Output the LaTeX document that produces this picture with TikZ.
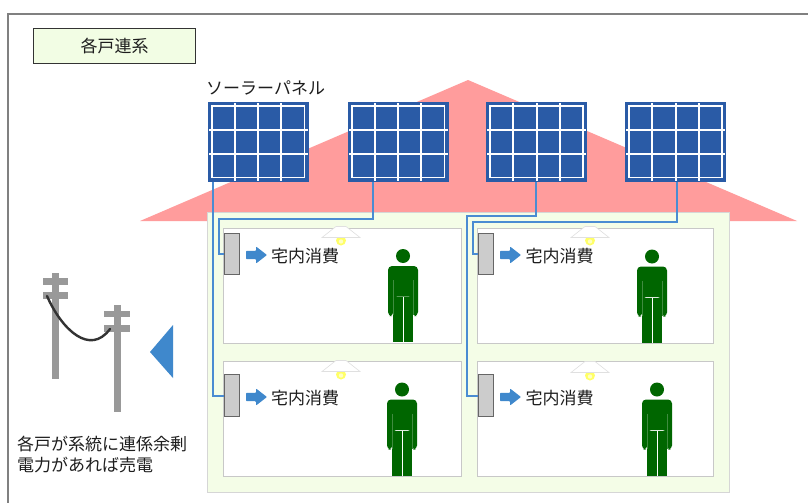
\documentclass[tikz,border=0pt]{standalone}
\usepackage{fontspec}
\setmainfont{Noto Sans CJK JP}
\usetikzlibrary{calc}

\definecolor{framegray}{HTML}{808080}
\definecolor{titlefill}{HTML}{F2FDE4}
\definecolor{panelblue}{HTML}{2A5BA6}
\definecolor{roofpink}{HTML}{FF9C9C}
\definecolor{housefill}{HTML}{F4FDE7}
\definecolor{houseedge}{HTML}{D6D6D6}
\definecolor{roomedge}{HTML}{C8C8C8}
\definecolor{wireblue}{HTML}{4A8CD2}
\definecolor{metergray}{HTML}{CCCCCC}
\definecolor{meteredge}{HTML}{666666}
\definecolor{accentblue}{HTML}{3F88CC}
\definecolor{persongreen}{HTML}{006600}
\definecolor{polegray}{HTML}{999999}
\definecolor{lampyellow}{HTML}{FFFF66}
\definecolor{textdark}{HTML}{1E1E1E}

\tikzset{
  jfont/.style={font=\fontsize{17}{20.5}\selectfont, text=textdark},
  titlebox/.style={rectangle, draw=black!80, fill=titlefill, line width=1pt,
    minimum width=162pt, minimum height=35pt, inner sep=0pt, anchor=north west, jfont},
  panel/.style={rectangle, fill=panelblue, draw=panelblue, line width=1.2pt,
    minimum width=100pt, minimum height=79pt, inner sep=0pt, anchor=north west,
    path picture={
      \foreach \dx in {26.75,50,73.25}
        \draw[white, line width=2.2pt]
          ([xshift=\dx pt]path picture bounding box.north west) --
          ([xshift=\dx pt]path picture bounding box.south west);
      \foreach \dy in {27.5,51.5}
        \draw[white, line width=2.2pt]
          ([yshift=-\dy pt]path picture bounding box.north west) --
          ([yshift=-\dy pt]path picture bounding box.north east);
      \draw[white, line width=1.6pt]
        ([shift={(3.6pt,-3.6pt)}]path picture bounding box.north west) rectangle
        ([shift={(-3.6pt,3.6pt)}]path picture bounding box.south east);
    }},
  house/.style={rectangle, fill=housefill, draw=houseedge, line width=1.2pt,
    minimum width=522pt, minimum height=280pt, inner sep=0pt, anchor=north west},
  room/.style={rectangle, fill=white, draw=roomedge, line width=1.4pt,
    minimum width=238pt, minimum height=115pt, inner sep=0pt, anchor=north west},
  meter/.style={rectangle, fill=metergray, draw=meteredge, line width=1pt,
    minimum width=15pt, minimum height=41pt, inner sep=0pt, anchor=north west},
  wire/.style={draw=wireblue, line width=2pt},
  usage/.style={anchor=west, inner sep=0pt, jfont},
  person/.pic={
    \fill[persongreen] (0,-86) circle (7);
    \fill[persongreen, rounded corners=4pt]
      (-15,-26) -- (-15,-76) -- (15,-76) -- (15,-26) -- (9.7,-26)
      -- (9.7,-45.5) -- (-9.7,-45.5) -- (-9.7,-26) -- cycle;
    \fill[persongreen] (-9.7,-44.6) rectangle (-0.5,0);
    \fill[persongreen] (0.5,-44.6) rectangle (9.7,0);
    \draw[persongreen!75!white, line width=0.4pt] (-9.7,-62) -- (-9.7,-27);
    \draw[persongreen!75!white, line width=0.4pt] (9.7,-62) -- (9.7,-27);
  },
  lamp/.pic={
    \fill[lampyellow] (0,14) circle (5);
    \fill[lampyellow!40!white] (0,15) circle (2.2);
    \filldraw[fill=white, draw=black!12, line width=0.6pt]
      (-5,0) -- (5,0) -- (19,11) -- (-19,11) -- cycle;
  },
  flow/.pic={
    \fill[accentblue, rounded corners=0.8pt]
      (0,-4.2) -- (10,-4.2) -- (10,-8.5) -- (21,0) -- (10,8.5) -- (10,4.2) -- (0,4.2) -- cycle;
  }
}

\begin{document}
\begin{tikzpicture}[x=1pt, y=-1pt]
  \useasboundingbox (0,0) rectangle (808,503);
  \fill[white] (0,0) rectangle (808,503);

  % outer frame
  \draw[framegray, line width=2pt] (808,14) -- (8,14) -- (8,503);

  % heading
  \node[titlebox] (title) at (33,28.5) {各戸連系};

  % roof and house body
  \coordinate (eaveL) at (140,221);
  \coordinate (ridge) at (468,80);
  \coordinate (eaveR) at (797,221);
  \fill[roofpink] (eaveL) -- (ridge) -- (eaveR) -- cycle;
  \node[house] (house) at (207,212) {};

  % rooms
  \node[room] (r1) at (223,228) {};
  \node[room] (r2) at (223,360.5) {};
  \node[room, minimum width=236pt] (r3) at (477,228) {};
  \node[room, minimum width=236pt] (r4) at (477,360.5) {};

  % ceiling lamps
  \pic at (341,226.5) {lamp};
  \pic at (590,226.5) {lamp};
  \pic at (341,360.5) {lamp};
  \pic at (590,361.5) {lamp};

  % solar panels
  \node[anchor=west, inner sep=0pt, jfont] (pvlabel) at (206,88) {ソーラーパネル};
  \node[panel] (p1) at (207.5,101.5) {};
  \node[panel] (p2) at (347.5,101.5) {};
  \node[panel] (p3) at (486,101.5) {};
  \node[panel] (p4) at (625,101.5) {};

  % meters
  \node[meter] (m1) at (224,233) {};
  \node[meter, minimum height=42pt] (m2) at (223.5,374) {};
  \node[meter] (m3) at (478,233) {};
  \node[meter, minimum height=42pt] (m4) at (478,374) {};

  % wiring from panels to meters
  \coordinate (j2) at (219,219);
  \coordinate (j3) at (466.5,216);
  \coordinate (j4) at (472.5,222);
  \draw[wire] ([xshift=5.5pt]p1.south west) |- (m2.west);
  \draw[wire] ([xshift=25pt]p2.south west) |- (j2) |- (m1.west);
  \draw[wire] ([xshift=-1pt]p3.south) |- (j3) |- (m4.west);
  \draw[wire] ([xshift=1pt]p4.south) |- (j4) |- (m3.west);

  % household consumption
  \pic at (246,255) {flow};
  \pic at (246,397) {flow};
  \pic at (500,255) {flow};
  \pic at (500,397) {flow};
  \node[usage] (u1) at (271,256) {宅内消費};
  \node[usage] (u2) at (271,398) {宅内消費};
  \node[usage] (u3) at (525.5,256) {宅内消費};
  \node[usage] (u4) at (525.5,398) {宅内消費};

  % residents
  \pic at (403,342) {person};
  \pic at (652,342.5) {person};
  \pic at (402,475.5) {person};
  \pic at (657,475.5) {person};

  % utility poles and line
  \fill[polegray] (52,273) rectangle (59,379);
  \fill[polegray] (43,278) rectangle (68,284.5);
  \fill[polegray] (43,292) rectangle (68,298.5);
  \fill[polegray] (113.5,305) rectangle (120.5,412);
  \fill[polegray] (103.5,311) rectangle (129.5,317);
  \fill[polegray] (103.5,324.5) rectangle (129.5,331.5);
  \coordinate (lineA) at (47,296);
  \coordinate (lineB) at (110,329);
  \draw[black!80, line width=2.4pt, line cap=round]
    (lineA) .. controls (62,330) and (90,356) .. (lineB);

  % selling-power marker
  \fill[accentblue] (150,352) -- (173,325) -- (173,378) -- cycle;

  \node[anchor=north west, inner sep=0pt, align=left, jfont] (note) at (17,436)
    {各戸が系統に連係余剰\\電力があれば売電};
\end{tikzpicture}
\end{document}
